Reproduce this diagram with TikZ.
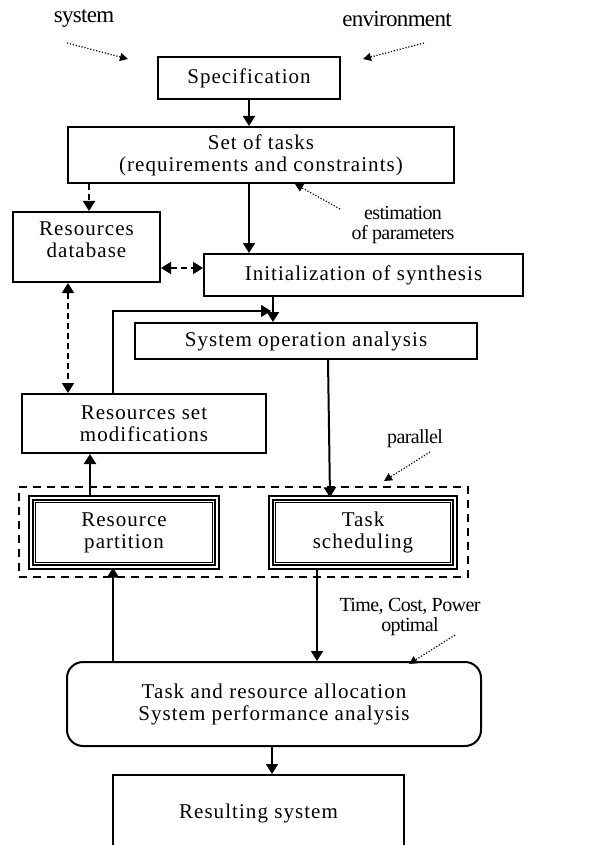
\documentclass[tikz,border=0pt]{standalone}
\usepackage{fontspec}
\setmainfont{Liberation Serif}
\newfontfamily\boxfont[LetterSpace=5]{Liberation Serif}
\newfontfamily\notefont[LetterSpace=-3]{Liberation Serif}
\usetikzlibrary{arrows.meta}

\begin{document}
\begin{tikzpicture}[x=0.5pt,y=-0.5pt]
\tikzset{box/.style = {draw, line width=1pt, align=center, inner sep=0pt, font=\boxfont\fontsize{10.5}{11}\selectfont},
 twin/.style = {box, double, double distance=1.2pt, line width=0.7pt},
 note/.style = {align=center, font=\notefont\fontsize{10}{10}\selectfont},
 bignote/.style = {note, font=\notefont\fontsize{11.5}{12}\selectfont},
 flow/.style = {line width=1pt, -{Triangle[length=5pt,width=6pt]}},
 dflow/.style = {line width=1pt, dash pattern=on 3pt off 2pt, {Triangle[length=5pt,width=6pt]}-{Triangle[length=5pt,width=6pt]}},
 hint/.style = {dash pattern=on 0.6pt off 0.9pt, line width=0.6pt, -{Triangle[length=4pt,width=4pt]}}}
\useasboundingbox (0,0) rectangle (614,845);
\clip (0,0) rectangle (614,845);
\node[bignote] (sys) at (84,19) {system}; \node[bignote] (env) at (397,19) {environment};
\node[box, minimum width=91pt, minimum height=21pt] (spec) at (249,78) {Specification};
\node[box, minimum width=193pt, minimum height=28pt] (tasks) at (261,155) {Set of tasks\\(requirements and constraints)};
\node[box, minimum width=73.5pt, minimum height=35pt] (db) at (86.5,247) {Resources\\database\\[-4pt]};
\node[box, minimum width=159.5pt, minimum height=21pt] (init) at (363.5,275) {Initialization of synthesis};
\node[note] (est) at (403,225) {estimation\\of parameters};
\node[box, minimum width=171pt, minimum height=18pt] (sysop) at (306,341) {System operation analysis};
\node[box, minimum width=122pt, minimum height=29.5pt] (rsm) at (144,423.5) {Resources set\\modifications};
\node[note] (par) at (415,439) {parallel};
\node[draw, line width=1pt, dash pattern=on 4pt off 3pt, minimum width=224.5pt, minimum height=45pt] (grp) at (243.5,532) {};
\node[twin, minimum width=93pt, minimum height=34.5pt] (rp) at (124,532.5) {Resource\\partition};
\node[twin, minimum width=92pt, minimum height=34.5pt] (ts) at (363,532.5) {Task\\scheduling};
\foreach \b in {rp,ts} \draw[line width=0.5pt] ([shift={(2.6pt,-2.6pt)}]\b.north west) rectangle ([shift={(-2.6pt,2.6pt)}]\b.south east);
\node[note] (tcp) at (410,617) {Time, Cost, Power\\optimal};
\node[box, rounded corners=8pt, minimum width=207pt, minimum height=42pt] (alloc) at (274,704) {Task and resource allocation\\System performance analysis};
\node[box, minimum width=145.5pt, minimum height=38pt] (res) at (258.5,813) {Resulting system};
\coordinate (s0) at (67,43); \coordinate (s1) at (128,59);
\coordinate (e0) at (424,43); \coordinate (e1) at (363,59);
\coordinate (p0) at (340,209); \coordinate (p1) at (295,184);
\coordinate (q0) at (430,452); \coordinate (q1) at (384,481);
\coordinate (t0) at (455,635); \coordinate (t1) at (409,664);
\coordinate (back) at (271,311);
\draw[hint] (s0) -- (s1); \draw[hint] (e0) -- (e1); \draw[hint] (p0) -- (p1); \draw[hint] (q0) -- (q1); \draw[hint] (t0) -- (t1);
\draw[flow] (spec) -- (spec |- tasks.north);
\draw[flow, dash pattern=on 3pt off 2pt] (tasks.south -| 89,0) -- (db.north -| 89,0);
\draw[flow] (tasks.south -| spec) -- (init.north -| spec);
\draw[dflow] (db.east |- 0,268) -- (init.west |- 0,268);
\draw[flow] (init.south -| 273,0) -- (sysop.north -| 273,0);
\draw[dflow] (db.south -| 68,0) -- (rsm.north -| 68,0);
\draw[flow, line width=0.6pt] (rsm.north -| 113,0) |- (back);
\draw[flow] (sysop.south -| 328,0) -- (ts.north -| 330,0);
\draw[flow] (rp.north -| 90,0) -- (rsm.south -| 90,0);
\draw[flow] (alloc.north -| 113,0) -- (rp.south -| 113,0);
\draw[flow] (ts.south -| 317,0) -- (alloc.north -| 317,0);
\draw[flow] (alloc.south -| 272,0) -- (res.north -| 272,0);
\end{tikzpicture}
\end{document}
